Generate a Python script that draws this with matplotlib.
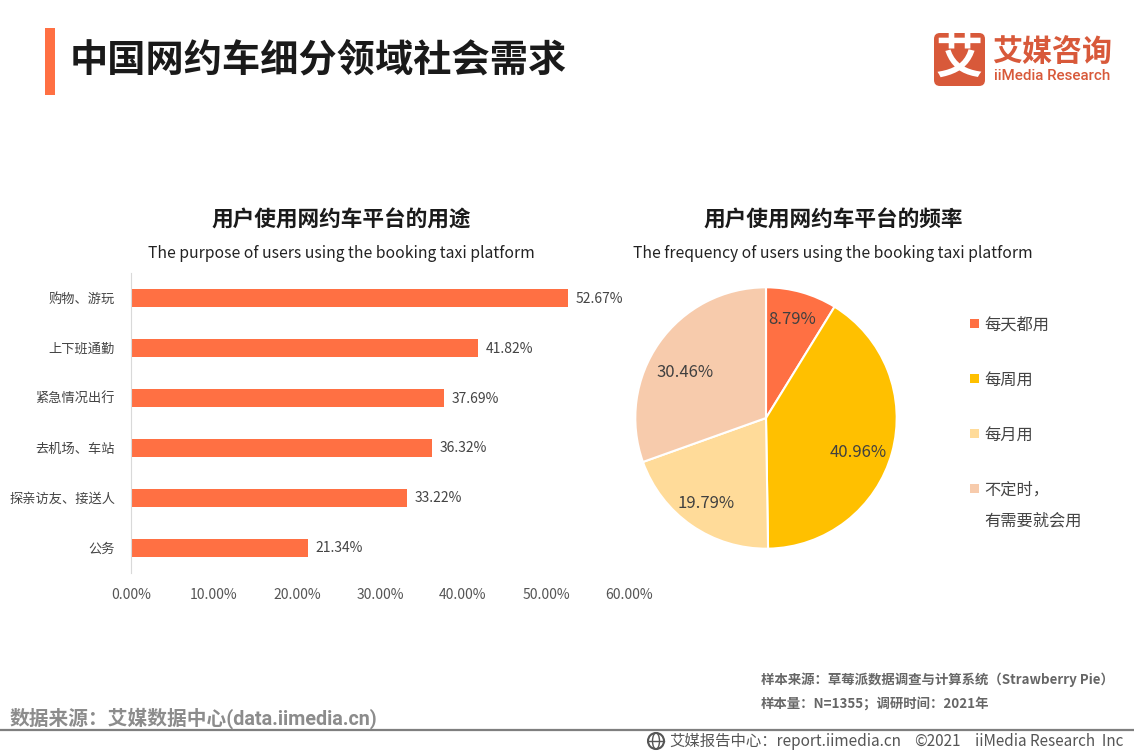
import matplotlib
matplotlib.use("Agg")
import matplotlib.pyplot as plt
from matplotlib.patches import Rectangle, FancyBboxPatch, Circle, Ellipse

plt.rcParams["font.family"] = ["Noto Sans CJK SC", "DejaVu Sans"]

purposes = ["购物、游玩", "上下班通勤", "紧急情况出行", "去机场、车站", "探亲访友、接送人", "公务"]
purpose_values = [52.67, 41.82, 37.69, 36.32, 33.22, 21.34]
x_ticks = [0, 10, 20, 30, 40, 50, 60]

freq_labels = ["每天都用", "每周用", "每月用", "不定时，\n有需要就会用"]
freq_values = [8.79, 40.96, 19.79, 30.46]
freq_colors = ["#FF7043", "#FFC000", "#FFDB99", "#F7CBAC"]

W, H = 1134, 756
fig = plt.figure(figsize=(W / 100, H / 100), dpi=100)
bg = fig.add_axes([0, 0, 1, 1])
bg.set_xlim(0, W)
bg.set_ylim(H, 0)
bg.axis("off")

# header
bg.add_patch(Rectangle((45, 28), 10, 67, color="#FF7043", lw=0))
bg.text(70, 61, "中国网约车细分领域社会需求", fontsize=27.5, fontweight="bold", color="#1a1a1a", va="center")

# logo
logo_red = "#D8593A"
bg.add_patch(FancyBboxPatch((934, 33), 51, 53, boxstyle="round,pad=0,rounding_size=6", color=logo_red, lw=0))
bg.text(959.5, 59, "艾", fontsize=34, fontweight="bold", color="white", ha="center", va="center")
bg.text(992, 52, "艾媒咨询", fontsize=21.6, fontweight="bold", color=logo_red, va="center")
bg.text(994, 76.5, "iiMedia Research", fontsize=10.9, fontweight="medium", color=logo_red, va="center", family=["Roboto", "DejaVu Sans"])

# chart titles
bg.text(341.5, 220, "用户使用网约车平台的用途", fontsize=15.6, fontweight="bold", color="#1a1a1a", ha="center", va="center")
bg.text(341.5, 253, "The purpose of users using the booking taxi platform", fontsize=11.3, color="#222222", ha="center", va="center")
bg.text(833, 220, "用户使用网约车平台的频率", fontsize=15.6, fontweight="bold", color="#1a1a1a", ha="center", va="center")
bg.text(833, 253, "The frequency of users using the booking taxi platform", fontsize=11.3, color="#222222", ha="center", va="center")

# bars
ax = fig.add_axes([131 / W, 1 - 573 / H, (629 - 131) / W, (573 - 273) / H])
ypos = list(range(len(purposes)))
ax.barh(ypos, purpose_values, height=0.36, color="#FF7043")
ax.set_ylim(len(purposes) - 0.5, -0.5)
ax.set_xlim(0, 60)
ax.set_yticks(ypos)
ax.set_yticklabels(purposes, fontsize=9.5, color="#444444")
ax.set_xticks(x_ticks)
ax.set_xticklabels([f"{t:.2f}%" for t in x_ticks], fontsize=10, color="#555555")
ax.tick_params(length=0)
ax.tick_params(axis="x", pad=11)
ax.tick_params(axis="y", pad=11.5)
for s in ["top", "right", "bottom"]:
    ax.spines[s].set_visible(False)
ax.spines["left"].set_color("#D9D9D9")
for y, v in zip(ypos, purpose_values):
    ax.text(v + 0.9, y + 0.01, f"{v:.2f}%", fontsize=10, color="#444444", va="center")

# pie
pie_ax = fig.add_axes([(766 - 132) / W, 1 - (418 + 132) / H, 264 / W, 264 / H])
wedges, _, autotexts = pie_ax.pie(
    freq_values, colors=freq_colors, startangle=90, counterclock=False,
    autopct="%.2f%%", pctdistance=0.72,
    wedgeprops={"edgecolor": "white", "linewidth": 1.5},
    textprops={"fontsize": 12, "color": "#404040"},
)
pie_ax.set_xlim(-1.01, 1.01)
pie_ax.set_ylim(-1.01, 1.01)
# nudge the percentages to where the reference has them (data units, r=1 is 130px)
for txt, (dx, dy) in zip(autotexts, [(0.0, 0.06), (0.01, -0.075), (-0.05, -0.06), (-0.03, -0.07)]):
    px, py = txt.get_position()
    txt.set_position((px + dx, py + dy))

# legend
for label, color, y in zip(freq_labels, freq_colors, [325, 380, 435, 490]):
    bg.add_patch(Rectangle((970, y - 6), 9, 9, color=color, lw=0))
    lines = label.split("\n")
    for i, line in enumerate(lines):
        bg.text(984.5, y + i * 31, line, fontsize=11.7, color="#444444", va="center")

# footer
bg.text(761, 679.5, "样本来源：草莓派数据调查与计算系统（Strawberry Pie）", fontsize=9.65, fontweight="bold", color="#666666", va="center")
bg.text(761, 703.5, "样本量：N=1355；调研时间：2021年", fontsize=9.65, fontweight="bold", color="#666666", va="center")
bg.text(10, 718, "数据来源：艾媒数据中心(data.iimedia.cn)", fontsize=14.2, fontweight="bold", color="#8c8c8c", va="center", family=["Roboto", "Noto Sans CJK SC"])
bg.plot([0, W], [730, 730], color="#7f7f7f", lw=1.6)
bg.add_patch(Circle((656, 741), 8, fc="none", ec="#555555", lw=1.5))
bg.add_patch(Ellipse((656, 741), 7, 16, fc="none", ec="#555555", lw=1))
bg.plot([648, 664], [741, 741], color="#555555", lw=1)
bg.text(669, 741.5, "艾媒报告中心：report.iimedia.cn", fontsize=11.1, color="#555555", va="center")
bg.text(914, 741.5, "©2021", fontsize=11, color="#555555", va="center")
bg.text(975, 741.5, "iiMedia Research  Inc", fontsize=11, color="#555555", va="center")

fig.savefig("out.png", dpi=100)
